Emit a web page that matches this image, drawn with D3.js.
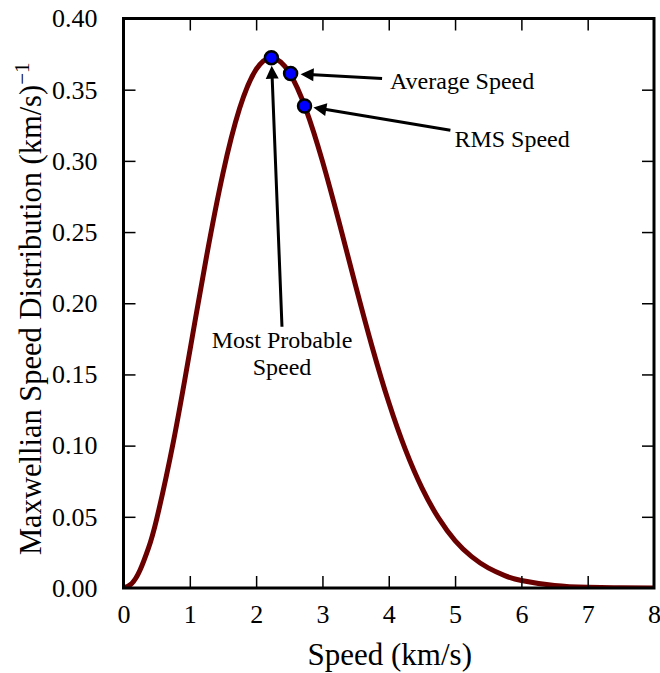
<!DOCTYPE html>
<html>
<head>
<meta charset="utf-8">
<script src="https://cdn.jsdelivr.net/npm/d3@7"></script>
<style>
  body { margin: 0; background: #fff; }
  text { font-family: "Liberation Serif", "DejaVu Serif", serif; fill: #000; }
</style>
</head>
<body>
<svg id="chart" width="660" height="673"></svg>
<script>
// curve: speed (km/s) and distribution ((km/s)^-1)
const speeds = [0, 0.125, 0.25, 0.375, 0.5, 0.75, 1.0, 1.25, 1.5, 1.75, 2.0, 2.25, 2.5, 2.75, 3.0, 3.25, 3.5,
                3.75, 4.0, 4.25, 4.5, 4.75, 5.0, 5.25, 5.5, 5.75, 6.0, 6.5, 7.0, 7.5, 8.0]
const density = [0, 0.0032, 0.0126, 0.0278, 0.0484, 0.1022, 0.1664, 0.2323, 0.2913, 0.3367, 0.3642, 0.3722, 0.3620,
                 0.3364, 0.2998, 0.2571, 0.2124, 0.1693, 0.1304, 0.0973, 0.0703, 0.0492, 0.0333,
                 0.0220, 0.0141, 0.0087, 0.0053, 0.0018, 0.0005, 0.0001, 0.0]

// special speeds marked on the curve
const markNames = ["Most Probable Speed", "Average Speed", "RMS Speed"]
const markSpeeds = [2.23, 2.52, 2.73]
const markValues = [0.3725, 0.3613, 0.3386]

const xTicks = [0, 1, 2, 3, 4, 5, 6, 7, 8]
const yTicks = [0, 0.05, 0.10, 0.15, 0.20, 0.25, 0.30, 0.35, 0.40]

const margin = {top: 18.5, right: 6, bottom: 85, left: 123.5}
const width = 660 - margin.left - margin.right
const height = 673 - margin.top - margin.bottom

const svg = d3.select("#chart")
const g = svg.append("g").attr("transform", `translate(${margin.left},${margin.top})`)

const x = d3.scaleLinear().domain([0, 8]).range([0, width])
const y = d3.scaleLinear().domain([0, 0.40]).range([height, 0])

// clip so the thick line doesn't spill past the frame
svg.append("defs").append("clipPath").attr("id", "plotclip")
  .append("rect").attr("width", width).attr("height", height)

const pts = speeds.map((s, i) => [s, density[i]])

g.append("path")
  .datum(pts)
  .attr("clip-path", "url(#plotclip)")
  .attr("fill", "none")
  .attr("stroke", "#6b0000")
  .attr("stroke-width", 5)
  .attr("d", d3.line().x(d => x(d[0])).y(d => y(d[1])).curve(d3.curveNatural))

///// AXES /////

const tickLen = 12
const styleAxis = (sel) => {
  sel.select(".domain").remove()
  sel.selectAll(".tick line").attr("stroke", "#000").attr("stroke-width", 1.5)
  sel.selectAll(".tick text").style("font-size", "26px").attr("fill", "#000")
}

g.append("g").attr("transform", `translate(0,${height})`)
  .call(d3.axisBottom(x).tickValues(xTicks).tickFormat(d3.format("d")).tickSizeInner(-tickLen).tickPadding(tickLen + 5))
  .call(styleAxis)
  .call(a => a.selectAll(".tick").filter(d => d === 0 || d === 8).select("line").remove())

g.append("g")
  .call(d3.axisTop(x).tickValues(xTicks).tickFormat("").tickSizeInner(-tickLen))
  .call(styleAxis)
  .call(a => a.selectAll(".tick").filter(d => d === 0 || d === 8).select("line").remove())

g.append("g")
  .call(d3.axisLeft(y).tickValues(yTicks).tickFormat(d3.format(".2f")).tickSizeInner(-tickLen).tickPadding(tickLen + 14))
  .call(styleAxis)
  .call(a => a.selectAll(".tick").filter(d => d === 0 || d === 0.40).select("line").remove())

g.append("g").attr("transform", `translate(${width},0)`)
  .call(d3.axisRight(y).tickValues(yTicks).tickFormat("").tickSizeInner(-tickLen))
  .call(styleAxis)
  .call(a => a.selectAll(".tick").filter(d => d === 0 || d === 0.40).select("line").remove())

// frame
g.append("rect")
  .attr("width", width).attr("height", height)
  .attr("fill", "none").attr("stroke", "#000").attr("stroke-width", 3)

g.append("text")
  .attr("x", width / 2 + 1).attr("y", height + 77)
  .attr("text-anchor", "middle")
  .style("font-size", "31px")
  .text("Speed (km/s)")

const ylab = g.append("text")
  .attr("transform", `translate(${41 - margin.left},${555 - margin.top}) rotate(-90)`)
  .attr("text-anchor", "start")
  .style("font-size", "30.5px")
ylab.append("tspan").text("Maxwellian Speed Distribution (km/s)")
ylab.append("tspan").attr("dy", -12).style("font-size", "21px").text("\u22121")

///// ANNOTATIONS /////

// filled arrow polygon from (x1,y1) to tip (x2,y2), like matplotlib's simple arrow
function arrowPath(x1, y1, x2, y2, shaft = 3, headW = 13, headL = 13) {
  const dx = x2 - x1, dy = y2 - y1
  const len = Math.hypot(dx, dy)
  const ux = dx / len, uy = dy / len
  const nx = -uy, ny = ux
  const bx = x2 - ux * headL, by = y2 - uy * headL
  const p = [
    [x1 + nx * shaft / 2, y1 + ny * shaft / 2],
    [bx + nx * shaft / 2, by + ny * shaft / 2],
    [bx + nx * headW / 2, by + ny * headW / 2],
    [x2, y2],
    [bx - nx * headW / 2, by - ny * headW / 2],
    [bx - nx * shaft / 2, by - ny * shaft / 2],
    [x1 - nx * shaft / 2, y1 - ny * shaft / 2],
  ]
  return "M" + p.map(q => q.join(",")).join("L") + "Z"
}

// text placement for each marker label (offsets are layout, not data)
const labels = [
  {lines: ["Most Probable", "Speed"], tx: 2.39, ty: 0.1687, anchor: "middle", from: [0, -21], gap: 8},
  {lines: ["Average Speed"], tx: 4.02, ty: 0.3505, anchor: "start", from: [-8, -10.5], gap: 10},
  {lines: ["RMS Speed"], tx: 4.99, ty: 0.3095, anchor: "start", from: [-4, -17], gap: 9},
]

markNames.forEach((name, i) => {
  const L = labels[i]
  const px = x(markSpeeds[i]), py = y(markValues[i])
  const tx = x(L.tx), ty = y(L.ty)
  const sx = tx + L.from[0], sy = ty + L.from[1]
  const ang = Math.atan2(py - sy, px - sx)
  const ex = px - Math.cos(ang) * L.gap, ey = py - Math.sin(ang) * L.gap
  g.append("path").attr("d", arrowPath(sx, sy, ex, ey)).attr("fill", "#000")
  const t = g.append("text")
    .attr("x", tx).attr("y", ty)
    .attr("text-anchor", L.anchor)
    .style("font-size", "24px")
  L.lines.forEach((ln, j) => t.append("tspan").attr("x", tx).attr("dy", j === 0 ? 0 : 27).text(ln))
})

g.selectAll("circle.mark")
  .data(markSpeeds)
  .join("circle")
  .attr("class", "mark")
  .attr("cx", d => x(d))
  .attr("cy", (d, i) => y(markValues[i]))
  .attr("r", 6.5)
  .attr("fill", "#0000ff")
  .attr("stroke", "#000")
  .attr("stroke-width", 2.5)
</script>
</body>
</html>
